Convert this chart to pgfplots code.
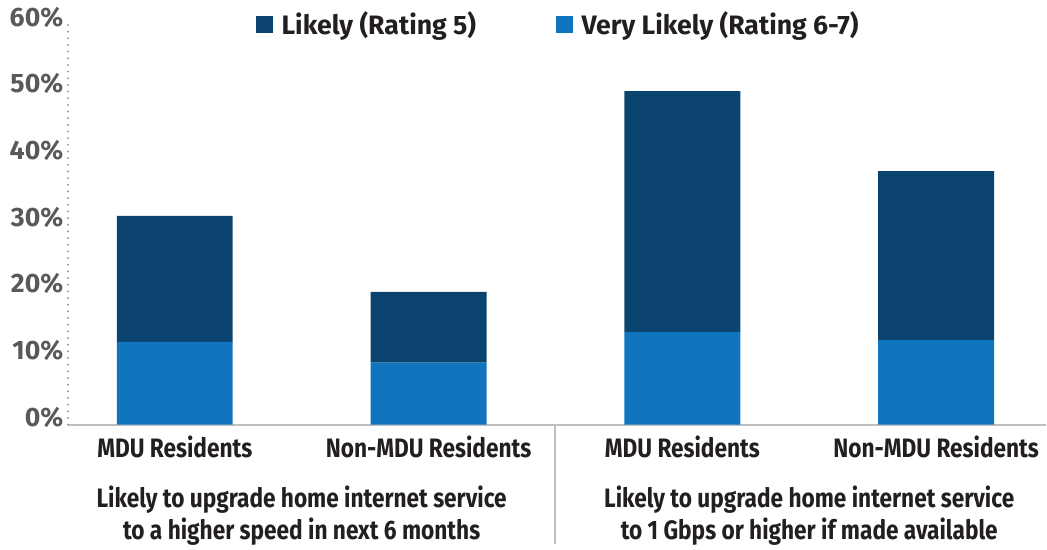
\documentclass[border=0pt]{standalone}
\usepackage{pgfplots}
\pgfplotsset{compat=1.18}
\usepackage{fontspec}
\setmainfont{Fira Sans}
\newfontfamily\cond[FakeStretch=0.85]{Fira Sans}
\definecolor{dkblue}{RGB}{10,67,110}
\definecolor{ltblue}{RGB}{17,116,190}
\definecolor{tickgray}{RGB}{89,89,89}
\definecolor{txt}{RGB}{35,31,32}
\definecolor{axgray}{RGB}{191,191,191}
\definecolor{dotgray}{RGB}{150,150,150}
\begin{document}
\begin{tikzpicture}
\begin{axis}[
  at={(0,0)}, anchor=south west,
  scale only axis, width=734.25pt, height=304.5pt,
  ymin=0, ymax=60.8, xmin=-0.421, xmax=3.433,
  ybar stacked, bar width=87pt,
  clip=false,
  axis x line*=bottom, axis y line*=left,
  x axis line style={draw=axgray, line width=1.5pt, -},
  y axis line style={draw=dotgray, line width=1.6pt, dash pattern=on 0pt off 5pt, line cap=round, -},
  major tick length=0pt,
  xtick={0,1,2,3},
  xticklabels={MDU Residents, Non-MDU Residents, MDU Residents, Non-MDU Residents},
  xticklabel style={font=\cond\bfseries\fontsize{20}{24}\selectfont, text=txt, yshift=-5pt},
  ytick={0,10,20,30,40,50,60},
  yticklabels={0\%,10\%,20\%,30\%,40\%,50\%,60\%},
  yticklabel style={font=\bfseries\fontsize{20}{24}\selectfont, text=tickgray, yshift=5.5pt},
  legend columns=2,
  legend cell align=left,
  legend style={draw=none, fill=none, inner sep=0pt, at={(rel axis cs:0.192,0.988)}, anchor=west,
    font=\bfseries\fontsize{20}{24}\selectfont, text=txt,
    /tikz/every even column/.append style={column sep=58pt}},
]
\addplot[fill=ltblue, draw=none, forget plot] coordinates {(0,12.4) (1,9.3) (2,13.9) (3,12.7)};
\addplot[fill=dkblue, draw=none, forget plot] coordinates {(0,18.9) (1,10.6) (2,36.1) (3,25.3)};
\addlegendimage{legend image code/.code={\fill[dkblue] (0pt,-6pt) rectangle (12pt,6pt); \path[draw=none,fill=none] (0pt,0pt) -- (17pt,0pt);}}
\addlegendentry{Likely (Rating 5)}
\addlegendimage{legend image code/.code={\fill[ltblue] (0pt,-6pt) rectangle (12pt,6pt); \path[draw=none,fill=none] (0pt,0pt) -- (17pt,0pt);}}
\addlegendentry{Very Likely (Rating 6-7)}
\node[align=center, font=\cond\bfseries\fontsize{20}{24}\selectfont, text=txt] at (axis cs:0.5,0) [yshift=-68.25pt] {Likely to upgrade home internet service\\to a higher speed in next 6 months};
\node[align=center, font=\cond\bfseries\fontsize{20}{24}\selectfont, text=txt] at (axis cs:2.5,0) [yshift=-68.25pt] {Likely to upgrade home internet service\\to 1 Gbps or higher if made available};
\draw[axgray, line width=1.5pt] (axis cs:1.5,0) -- ([yshift=-90pt]axis cs:1.5,0);
\end{axis}
\path[use as bounding box] (-51pt,-90.75pt) rectangle (734.25pt,318.75pt);
\end{tikzpicture}
\end{document}
